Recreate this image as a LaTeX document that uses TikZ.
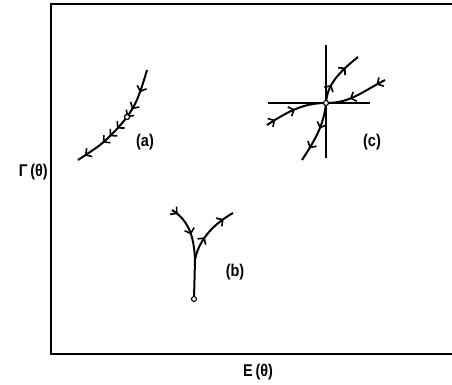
\documentclass[tikz,border=0pt]{standalone}
\usepackage{fontspec}
\setmainfont{Liberation Sans}
\newfontfamily\lblfont[FakeStretch=0.85]{Liberation Sans}
\usetikzlibrary{decorations.markings,arrows.meta}
\tikzset{
  frame/.style={line width=2pt},
  curve/.style={line width=2pt},
  axisline/.style={line width=1.4pt},
  pt/.style={circle,draw,fill=white,inner sep=0pt,minimum size=5pt,line width=1.1pt},
  lbl/.style={font=\lblfont\fontsize{17}{19}\selectfont\bfseries,inner sep=0pt},
  barb/.tip={Straight Barb[length=4.5pt,width=10pt,line width=1.6pt]},
  fa/.style={postaction={decorate,decoration={markings,mark=at position #1 with {\arrow{barb}}}}},
}
\begin{document}
\begin{tikzpicture}[x=1pt,y=-1pt]
\useasboundingbox (0,0) rectangle (452,384);
% frame
\coordinate (tr) at (452,4);
\coordinate (tl) at (51,4);
\coordinate (bl) at (51,354);
\coordinate (br) at (452,354);
\draw[frame] (tr) -- (tl) -- (bl) -- (br);
\node[lbl,anchor=east] (ylab) at (48,172) {Γ\,(θ)};
\node[lbl] (xlab) at (258,372) {E\,(θ)};
% (a)
\node[pt] (a0) at (127,117) {};
\draw[curve,fa/.list={0.2,0.36,0.44,0.57,0.66,0.74,0.93}]
  plot[smooth] coordinates {(147,70) (144,80) (140,92) (135,104) (127,117) (115,131) (100,145) (78,160)};
\node[pt] at (a0) {};
\node[lbl] (alab) at (145,142) {(a)};
% (c)
\coordinate (vt) at (326,45);
\coordinate (vb) at (326,158);
\coordinate (hl) at (268,103);
\coordinate (hr) at (370,103);
\draw[axisline] (vt) -- (vb);
\draw[axisline] (hl) -- (hr);
\coordinate (c1) at (267,125);
\coordinate (c2) at (385,80);
\coordinate (c3) at (358,57);
\coordinate (c4) at (302,160);
\coordinate (c0) at (326,103);
\draw[curve,fa/.list={0.15,0.5}]
  (c1) .. controls (290,110) and (305,103) .. (c0);
\draw[curve,fa/.list={0.15,0.62}]
  (c2) .. controls (360,93) and (350,103) .. (c0);
\draw[curve,fa/.list={0.33,0.72}]
  (c0) .. controls (327,88) and (334,76) .. (c3);
\draw[curve,fa/.list={0.42,0.78}]
  (c0) .. controls (324,125) and (315,140) .. (c4);
\node[pt] (cc) at (c0) {};
\node[lbl] (clab) at (372,142) {(c)};
% (b)
\coordinate (bt) at (195,260);
\coordinate (bL) at (172,210);
\coordinate (bR) at (233,213);
\draw[curve,fa/.list={0.12,0.55}]
  (bL) .. controls (188,220) and (194,235) .. (bt);
\draw[curve,fa/.list={0.4,0.82}]
  (bt) .. controls (198,243) and (210,226) .. (bR);
\node[pt] (b0) at (194,299) {};
\draw[curve] (b0) -- (bt);
\node[lbl] (blab) at (235,272) {(b)};
\end{tikzpicture}
\end{document}
